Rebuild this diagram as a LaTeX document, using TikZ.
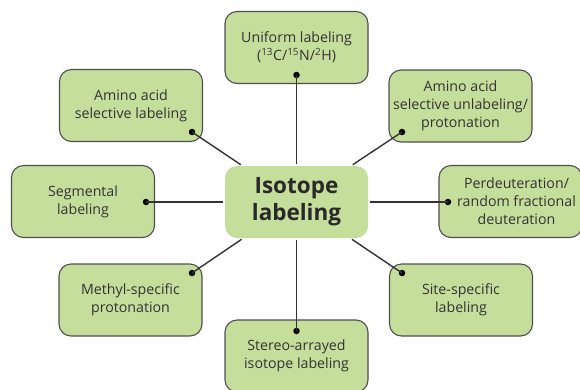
\documentclass[tikz,border=0pt]{standalone}
\usepackage{fontspec}
\setmainfont{Open Sans}
\begin{document}
\begin{tikzpicture}[x=1pt,y=-1pt,
  leaf/.style={draw=edgegray, line width=1.1pt, fill=boxgreen, rounded corners=12pt,
    minimum width=143pt, minimum height=72pt, inner sep=1pt, align=center,
    text=txtgray, font=\fontsize{14.2}{18}\selectfont},
  leaftext/.style={inner sep=1pt, align=center, text=txtgray, font=\fontsize{14.2}{18}\selectfont},
  hub/.style={fill=boxgreen, rounded corners=12pt, minimum width=143pt, minimum height=72pt,
    align=center, text=txtgray!80!black, font=\fontsize{22.5}{27}\selectfont\bfseries},
  conn/.style={draw=linegray, line width=1.4pt},
  dotmark/.style={fill=black, circle, inner sep=0pt, minimum size=6.5pt}]
\definecolor{boxgreen}{HTML}{C5DE9B}
\definecolor{edgegray}{HTML}{4F4F4F}
\definecolor{linegray}{HTML}{333333}
\definecolor{txtgray}{HTML}{333333}
\useasboundingbox (0,0) rectangle (580,389);
\clip (0,0) rectangle (580,389);
% nodes
\node[hub] (c) at (296.5,202) {Isotope\\labeling};
\node[leaf] (top) at (296.5,47.5) {Uniform labeling\\(\textsuperscript{13}C/\textsuperscript{15}N/\textsuperscript{2}H)};
\node[leaf] (unl) at (460.5,106) {Amino acid\\selective unlabeling/\\protonation};
\node[leaf] (per) at (510.5,201.5) {};
\node[leaftext] (pertext) at (516.5,201.5) {Perdeuteration/\\random fractional\\deuteration};
\node[leaf] (aal) at (131,105.5) {Amino acid\\selective labeling};
\node[leaf] (seg) at (83,201.5) {Segmental\\labeling};
\node[leaf] (met) at (130.5,300) {Methyl-specific\\protonation};
\node[leaf] (sit) at (461,300) {Site-specific\\labeling};
\node[leaf] (ste) at (296.5,356) {Stereo-arrayed\\isotope labeling};
% dots
\node[dotmark] (dtop) at (296.5,75) {};
\node[dotmark] (dunl) at (402,132) {};
\node[dotmark] (dper) at (448,202) {};
\node[dotmark] (daal) at (192,132) {};
\node[dotmark] (dseg) at (146,202) {};
\node[dotmark] (dmet) at (192,273) {};
\node[dotmark] (dsit) at (402,273) {};
\node[dotmark] (dste) at (296.5,331) {};
% connectors
\foreach \d in {dtop,dunl,dper,daal,dseg,dmet,dsit,dste}
  \draw[conn, shorten >=2pt] (\d.center) -- (c);
\end{tikzpicture}
\end{document}
